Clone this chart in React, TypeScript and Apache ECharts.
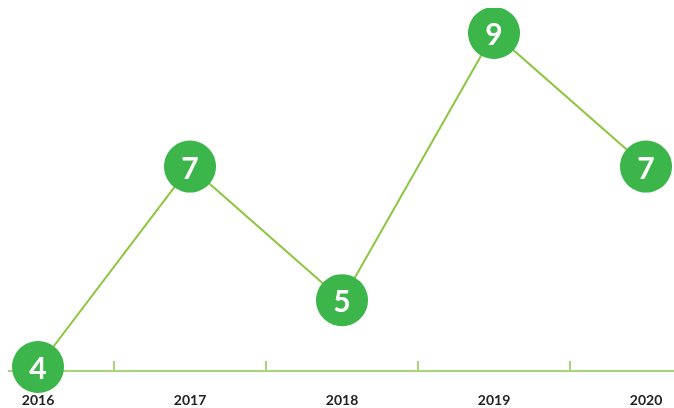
import React, { useEffect, useRef } from "react";
import * as echarts from "echarts";

const years = ["2016", "2017", "2018", "2019", "2020"];
const values = [4, 7, 5, 9, 7];

export default function App() {
  const ref = useRef<HTMLDivElement>(null);
  useEffect(() => {
    if (!ref.current) return;
    const chart = echarts.init(ref.current, null, { renderer: "svg" });
    chart.setOption({
      animation: false,
      grid: { left: 0, right: 0, top: 25, bottom: 41 },
      xAxis: {
        type: "category",
        data: years,
        boundaryGap: true,
        offset: 4,
        axisLine: { lineStyle: { color: "#a9d57a", width: 2 } },
        axisTick: { show: true, inside: true, length: 10, lineStyle: { color: "#a9d57a", width: 2 } },
        axisLabel: {
          color: "#222222",
          fontFamily: "Lato",
          fontWeight: "bold",
          fontSize: 14,
          margin: 21,
        },
        splitLine: { show: false },
      },
      yAxis: {
        type: "value",
        min: 4,
        max: 9,
        show: false,
      },
      series: [
        {
          type: "line",
          data: values,
          symbol: "circle",
          symbolSize: 52,
          clip: false,
          lineStyle: { color: "#8cc63f", width: 2 },
          itemStyle: { color: "#3cb54a" },
          label: {
            show: true,
            position: "inside",
            color: "#ffffff",
            fontFamily: "Lato",
            fontWeight: "bold",
            fontSize: 30,
          },
        },
      ],
    });
    return () => chart.dispose();
  }, []);
  return (
    <div style={{ position: "fixed", left: 8, top: 8, width: 666, height: 400, overflow: "hidden" }}>
      <div ref={ref} style={{ position: "absolute", left: -46, top: 0, width: 760, height: 400 }} />
    </div>
  );
}
